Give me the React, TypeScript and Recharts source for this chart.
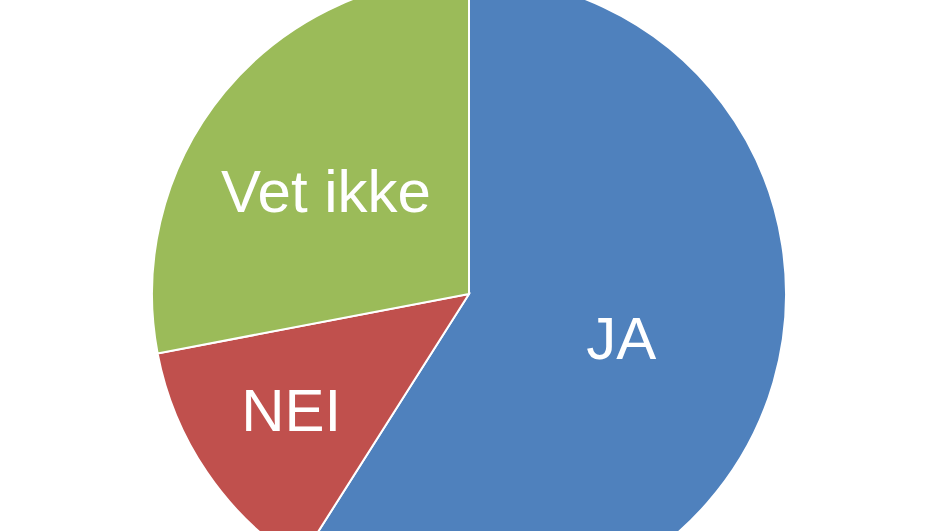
import { PieChart, Pie, Cell } from "recharts";

const categories = ["JA", "NEI", "Vet ikke"];
const shares = [59, 13, 28];
const colors = ["#4F81BD", "#C0504D", "#9BBB59"];

// label placement: part of the radius, and a small turn in degrees
const labelRadius = [0.5, 0.67, 0.555];
const labelTurn = [0, -1, 4];

const data = categories.map((name, i) => ({ name, value: shares[i] }));

const RAD = Math.PI / 180;

function renderLabel(props: any) {
  const { cx, cy, midAngle, outerRadius, index, name } = props;
  const r = outerRadius * labelRadius[index];
  const a = (midAngle + labelTurn[index]) * RAD;
  const x = cx + r * Math.cos(-a);
  const y = cy + r * Math.sin(-a);
  return (
    <text
      x={x}
      y={y}
      fill="#ffffff"
      textAnchor="middle"
      dominantBaseline="central"
      fontFamily="Liberation Sans, Arial, sans-serif"
      fontSize={60}
    >
      {name}
    </text>
  );
}

export default function App() {
  return (
    <div style={{ position: "absolute", left: 0, top: 0, width: 941, height: 531, background: "#fff" }}>
      <PieChart width={941} height={531} margin={{ top: 0, right: 0, bottom: 0, left: 0 }}>
        <Pie
          data={data}
          dataKey="value"
          nameKey="name"
          cx={469}
          cy={294}
          outerRadius={317}
          startAngle={90}
          endAngle={-270}
          stroke="#ffffff"
          strokeWidth={2}
          label={renderLabel}
          labelLine={false}
          isAnimationActive={false}
        >
          {data.map((d, i) => (
            <Cell key={d.name} fill={colors[i]} />
          ))}
        </Pie>
      </PieChart>
    </div>
  );
}
